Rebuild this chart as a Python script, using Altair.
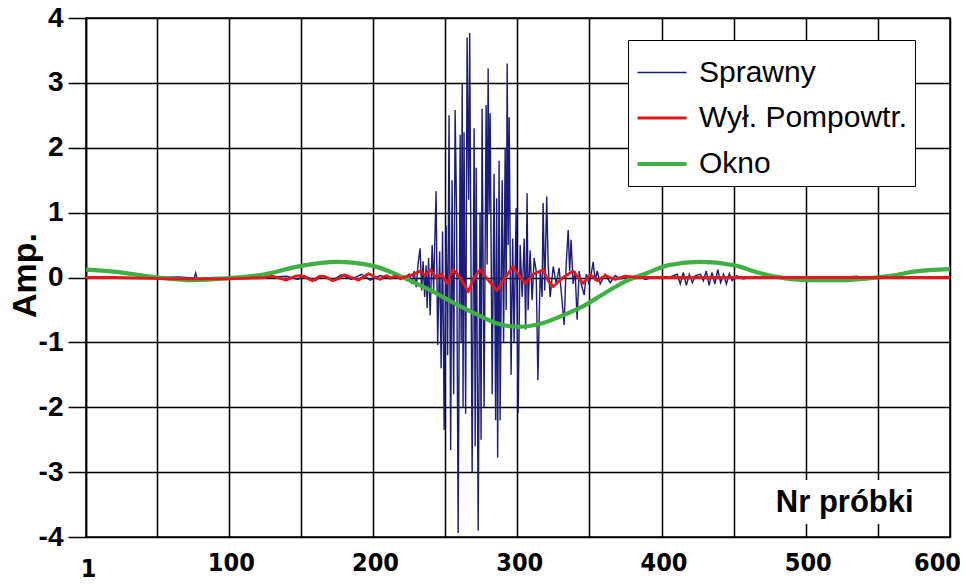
import altair as alt
import pandas as pd

# ---------------- data ----------------
series_names = ["Sprawny", "Wył. Pompowtr.", "Okno"]
series_colors = ["#1b1b7a", "#e8161b", "#3fb043"]
series_widths = [1.4, 4.2, 4.0]

# (sample, amplitude)
blue_pts = [
    (1, 0.0), (10, -0.01), (20, 0.01), (35, -0.01), (50, 0.0), (65, 0.01), (76, -0.01),
    (77, 0.07), (78, -0.02), (90, 0.0), (110, -0.01), (125, 0.0), (140, 0.02), (148, -0.03),
    (152, 0.03), (160, -0.05), (165, 0.03), (172, -0.04), (178, 0.04), (185, -0.03),
    (192, 0.05), (198, -0.04), (205, 0.03), (212, -0.02), (218, 0.02), (222, 0.0),
    (225, 0.05), (227, -0.1),
    (228.5, 0.1), (229.9, -0.15), (231.2, 0.2), (232.6, 0.45), (233.7, -0.2), (234.7, 0.25),
    (235.8, -0.3), (236.8, 0.19), (237.5, -0.47), (238.5, 0.3), (239.6, -0.58), (241.0, 0.5),
    (242.0, -0.2), (243.7, 1.33), (244.8, -1.04), (246.2, 0.4), (247.2, -1.4), (248.2, 0.71),
    (249.3, -2.35), (250.7, 0.8), (251.7, -1.2), (252.7, 2.5), (253.8, -2.66), (254.8, 1.5),
    (255.9, -1.8), (256.9, 2.58), (257.9, 1.0), (259.0, -3.94), (260.4, 2.2), (261.1, -1.0),
    (261.8, 3.0), (262.4, -2.0), (263.1, 2.24), (264.2, -2.1), (265.2, 3.7), (266.3, 1.2),
    (267.0, 3.77), (268.7, -3.0), (270.1, 2.3), (270.8, -2.6), (271.5, 1.69), (272.9, -3.9),
    (274.2, 1.0), (274.9, -2.5), (275.6, 2.6), (277.0, -2.0), (278.4, 2.66), (279.1, 0.2),
    (279.8, 3.22), (280.5, 1.0), (281.2, 2.53), (282.6, -1.8), (283.9, 1.6), (285.0, -2.2),
    (285.7, 1.22), (286.4, -2.78), (287.4, 1.8), (288.1, -2.2), (289.5, 1.5), (290.5, -1.0),
    (291.6, 2.0), (292.3, -0.5), (293.0, 3.3), (293.7, 0.5), (294.4, 2.47), (295.7, -1.5),
    (296.8, 0.6), (297.8, -1.0), (299.2, 1.07), (300.6, -2.09), (302.0, 0.5), (303.4, -0.3),
    (304.8, 0.6), (305.8, -0.8), (306.8, 1.3), (307.5, -0.5), (308.9, 0.42), (310.3, -0.35),
    (311.7, 0.3), (313.1, 0.1), (314.3, -1.58), (315.9, 0.1), (317.2, -0.3), (317.9, 1.15),
    (319.0, -0.2), (320.4, 1.25), (321.4, 0.2), (322.8, -0.3), (324.9, 0.17), (327.0, -0.1),
    (329.0, 0.15), (330.4, -0.2), (332.5, -0.73), (333.9, 0.2), (335.3, 0.73), (336.3, 0.1),
    (337.3, 0.58), (338.7, -0.1), (340.1, 0.1), (341.5, -0.65), (342.9, 0.1), (344.3, -0.1),
    (346.4, -0.27), (347.8, 0.05), (349.8, -0.1), (351.2, 0.05), (352.6, 0.24), (354.0, -0.05),
    (355.4, 0.1), (357.5, -0.1), (360.9, 0.05), (364.4, -0.08), (367.9, 0.03), (371.3, -0.02),
    (378.3, 0.0), (385.2, 0.02), (388.7, -0.03), (395, 0.01), (405, 0.0),
    (410.9, 0.05), (413, -0.1), (415.1, 0.08), (417.2, -0.12), (419.3, 0.05), (421.4, -0.08),
    (423.5, 0.03), (427, 0.05), (429, -0.05), (431, 0.1), (433, -0.12), (435, 0.08),
    (437, -0.1), (439, 0.12), (441, -0.08), (443, 0.05), (445, -0.1), (447, 0.06),
    (449, -0.05), (452, 0.03), (456, -0.02), (465, 0.0), (480, 0.01), (500, -0.01),
    (520, 0.0), (536, 0.02), (538, -0.03), (555, 0.0), (570, 0.01), (580, -0.01), (600, 0.0),
]

red_pts = [
    (1, 0.0), (20, 0.0), (40, -0.01), (60, -0.02), (80, -0.02), (100, -0.02), (115, -0.01),
    (125, 0.0), (130, 0.02), (135, -0.01), (140, -0.04), (146, 0.02), (150, 0.03), (155, -0.02),
    (158, -0.05), (163, 0.02), (167, 0.01), (172, -0.05), (176, -0.02), (180, 0.04), (185, 0.0),
    (190, -0.04), (194, 0.02), (197, 0.06), (201, 0.01), (205, -0.03), (209, 0.03), (212, 0.0),
    (216, 0.02), (219, -0.02), (222, 0.01), (226, 0.03), (229, 0.06), (232.6, 0.1), (236, 0.03),
    (239.6, 0.12), (243.7, 0.0), (247.2, 0.05), (251.4, -0.09), (255.5, 0.12), (260.4, 0.0),
    (266, -0.22), (270.1, 0.0), (274.2, 0.12), (279.1, -0.02), (286, -0.2), (291.6, 0.0),
    (297.1, 0.17), (300.6, 0.05), (305.5, -0.09), (311, 0.05), (318, 0.12), (321.4, -0.05),
    (324.9, -0.14), (331.8, 0.0), (338.7, 0.1), (345.7, -0.09), (350.5, 0.05), (355.4, -0.05),
    (360.9, 0.03), (367.9, -0.03), (374.8, 0.02), (383, 0.0), (400, 0.0), (450, 0.0),
    (500, 0.0), (550, 0.0), (600, 0.0),
]

green_pts = [
    (1, 0.12), (20, 0.09), (40, 0.03), (55, -0.01), (75, -0.04), (100, -0.01), (125, 0.05),
    (150, 0.18), (175, 0.24), (200, 0.18), (215, 0.06), (225, -0.04), (240, -0.2), (255, -0.38),
    (270, -0.55), (285, -0.7), (300, -0.76), (315, -0.72), (330, -0.6), (345, -0.45),
    (360, -0.25), (375, -0.06), (390, 0.07), (405, 0.19), (427, 0.24), (450, 0.19), (468, 0.07),
    (480, 0.01), (503, -0.04), (525, -0.04), (545, -0.01), (560, 0.03), (575, 0.09), (600, 0.13),
]

x_ticks = [1, 50, 100, 150, 200, 250, 300, 350, 400, 450, 500, 550, 600]
y_ticks = [-4, -3, -2, -1, 0, 1, 2, 3, 4]

x_title = "Nr próbki"
y_title = "Amp."
# annotation box for x title (data units)
note_box = {"sample": 472, "sample2": 598, "amp": -3.12, "amp2": -3.8}
note_pos = {"sample": 527, "amp": -3.47}

# ---------------- build ----------------
frames = []
for name, pts in zip(series_names, [blue_pts, red_pts, green_pts]):
    frames.append(pd.DataFrame({
        "sample": [p[0] for p in pts],
        "amp": [p[1] for p in pts],
        "series": name,
        "idx": list(range(len(pts))),
    }))
df = pd.concat(frames, ignore_index=True)

FONT = "Liberation Sans, Arial, sans-serif"
NARROW = "Liberation Sans Narrow, Arial Narrow, DejaVu Sans Condensed, sans-serif"

leg = alt.Legend(
    orient="none", legendX=542, legendY=22, title=None,
    symbolType="stroke", symbolSize=2400, labelFont=FONT, labelFontSize=30,
    labelColor="black", labelLimit=500, labelOffset=10,
    strokeColor="black", fillColor="white", padding=7, rowPadding=4,
)

x_enc = alt.X(
    "sample:Q",
    scale=alt.Scale(domain=[1, 600], nice=False, zero=False),
    axis=alt.Axis(
        values=x_ticks, title=None, grid=True, gridColor="black", gridWidth=1.5,
        ticks=False, domain=False, labelFont=NARROW, labelFontSize=25,
        labelFontWeight="bold", labelColor="black", labelFlush=False,
        labelExpr="datum.value == 1 ? '1' : (datum.value % 100 == 0 ? datum.label : '')",
        labelPadding={"condition": {"test": "datum.value == 1", "value": 19}, "value": 13},
        labelOffset={"condition": {"test": "datum.value == 600", "value": -13}, "value": 2},
    ),
)
y_enc = alt.Y(
    "amp:Q",
    scale=alt.Scale(domain=[-4, 4], nice=False, zero=False),
    axis=alt.Axis(
        values=y_ticks, labelExpr="toString(datum.value)", title=y_title, grid=True,
        gridColor="black", gridWidth=1.5,
        tickSize=18, tickColor="black", tickWidth=1.5, domainColor="black", domainWidth=1.5,
        labelFont=FONT, labelFontSize=28, labelFontWeight="bold", labelColor="black",
        labelPadding=5, titleFont=FONT, titleFontSize=34, titleFontWeight="bold",
        titleColor="black", titleX=-61, titleY=257, titleAngle=270, titleBaseline="middle",
        titleAlign="center",
    ),
)

base = alt.Chart(df).encode(
    x=x_enc,
    y=y_enc,
    color=alt.Color("series:N", scale=alt.Scale(domain=series_names, range=series_colors), legend=leg),
    strokeWidth=alt.StrokeWidth("series:N", scale=alt.Scale(domain=series_names, range=series_widths), legend=leg),
    order="idx:Q",
)

blue = base.mark_line(clip=True).transform_filter(alt.datum.series == series_names[0])
green = base.mark_line(clip=True, strokeJoin="round", interpolate="monotone").transform_filter(
    alt.datum.series == series_names[2])
red = base.mark_line(clip=True, strokeJoin="round").transform_filter(alt.datum.series == series_names[1])

note_df = pd.DataFrame([{**note_box}])
note_rect = alt.Chart(note_df).mark_rect(color="white").encode(
    x="sample:Q", x2="sample2:Q", y="amp:Q", y2="amp2:Q"
)
note_text_df = pd.DataFrame([{**note_pos, "label": x_title}])
note_text = alt.Chart(note_text_df).mark_text(
    font=FONT, fontSize=31, fontWeight="bold", color="black", baseline="middle", align="center"
).encode(x="sample:Q", y="amp:Q", text="label:N")

chart = alt.layer(blue, green, red, note_rect, note_text).properties(
    width=864, height=519,
    padding={"left": 78, "top": 10, "right": 10, "bottom": 45},
    autosize=alt.AutoSizeParams(type="none"),
    background="white",
).configure_view(stroke="black", strokeWidth=1.5)

chart.save("out.html", embed_options={"renderer": "svg", "actions": False})
